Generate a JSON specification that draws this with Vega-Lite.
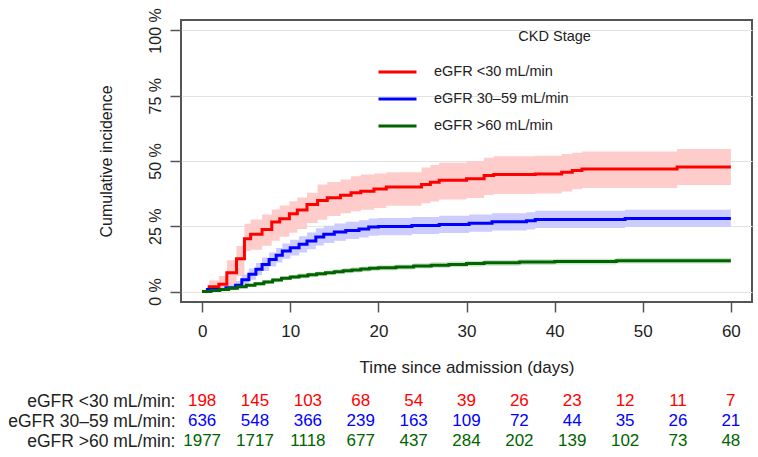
{
  "$schema": "https://vega.github.io/schema/vega-lite/v6.json",
  "padding": {"left": 7, "top": 6, "right": 6, "bottom": 0},
  "background": "white",
  "config": {
    "font": "Liberation Sans",
    "axis": {"labelFont": "Liberation Sans", "titleFont": "Liberation Sans", "labelColor": "#222", "titleColor": "#222", "titleFontWeight": "normal"},
    "legend": {"labelFont": "Liberation Sans", "labelColor": "#222"}
  },
  "datasets": {
    "curves": [
      {"g": "eGFR <30 mL/min", "t": 0, "est": 0, "lo": 0, "hi": 0},
      {"g": "eGFR <30 mL/min", "t": 0.8, "est": 1.8, "lo": 0.3, "hi": 4.2},
      {"g": "eGFR <30 mL/min", "t": 1.9, "est": 2.8, "lo": 0.8, "hi": 6},
      {"g": "eGFR <30 mL/min", "t": 2.8, "est": 7.2, "lo": 2.5, "hi": 12},
      {"g": "eGFR <30 mL/min", "t": 3.9, "est": 12.6, "lo": 6, "hi": 17.4},
      {"g": "eGFR <30 mL/min", "t": 4.8, "est": 20.2, "lo": 15.5, "hi": 26},
      {"g": "eGFR <30 mL/min", "t": 5.5, "est": 21.9, "lo": 16, "hi": 27.6},
      {"g": "eGFR <30 mL/min", "t": 6.8, "est": 23.8, "lo": 17.5, "hi": 29.5},
      {"g": "eGFR <30 mL/min", "t": 7.9, "est": 26.6, "lo": 19.5, "hi": 31.4},
      {"g": "eGFR <30 mL/min", "t": 8.8, "est": 27.9, "lo": 21, "hi": 33},
      {"g": "eGFR <30 mL/min", "t": 9.9, "est": 29.8, "lo": 22.5, "hi": 34.6},
      {"g": "eGFR <30 mL/min", "t": 10.8, "est": 31.2, "lo": 24, "hi": 36},
      {"g": "eGFR <30 mL/min", "t": 11.9, "est": 33.3, "lo": 26.3, "hi": 37.8},
      {"g": "eGFR <30 mL/min", "t": 13.1, "est": 34.9, "lo": 27.5, "hi": 41},
      {"g": "eGFR <30 mL/min", "t": 14.2, "est": 35.9, "lo": 28.9, "hi": 42},
      {"g": "eGFR <30 mL/min", "t": 15.7, "est": 36.9, "lo": 30, "hi": 42.9},
      {"g": "eGFR <30 mL/min", "t": 16.9, "est": 37.8, "lo": 30.8, "hi": 44.2},
      {"g": "eGFR <30 mL/min", "t": 18, "est": 38.4, "lo": 31.3, "hi": 44.8},
      {"g": "eGFR <30 mL/min", "t": 19.5, "est": 39.3, "lo": 32, "hi": 45.2},
      {"g": "eGFR <30 mL/min", "t": 20.9, "est": 40, "lo": 32.9, "hi": 45.7},
      {"g": "eGFR <30 mL/min", "t": 24.9, "est": 41, "lo": 33.8, "hi": 47.5},
      {"g": "eGFR <30 mL/min", "t": 25.9, "est": 41.9, "lo": 34.5, "hi": 48.5},
      {"g": "eGFR <30 mL/min", "t": 26.9, "est": 42.6, "lo": 35.3, "hi": 49.3},
      {"g": "eGFR <30 mL/min", "t": 30, "est": 43.2, "lo": 35.8, "hi": 50},
      {"g": "eGFR <30 mL/min", "t": 32, "est": 44.4, "lo": 37, "hi": 51.2},
      {"g": "eGFR <30 mL/min", "t": 33.1, "est": 44.8, "lo": 37.4, "hi": 51.8},
      {"g": "eGFR <30 mL/min", "t": 37.8, "est": 45, "lo": 37.6, "hi": 52},
      {"g": "eGFR <30 mL/min", "t": 40.8, "est": 45.7, "lo": 38.3, "hi": 52.7},
      {"g": "eGFR <30 mL/min", "t": 42, "est": 46.4, "lo": 39.2, "hi": 53.2},
      {"g": "eGFR <30 mL/min", "t": 43.1, "est": 46.9, "lo": 39.7, "hi": 53.6},
      {"g": "eGFR <30 mL/min", "t": 53.9, "est": 47.7, "lo": 40.8, "hi": 54.6},
      {"g": "eGFR <30 mL/min", "t": 60, "est": 47.7, "lo": 40.8, "hi": 54.6},

      {"g": "eGFR 30–59 mL/min", "t": 0, "est": 0, "lo": 0, "hi": 0},
      {"g": "eGFR 30–59 mL/min", "t": 0.6, "est": 0.8, "lo": 0.2, "hi": 1.8},
      {"g": "eGFR 30–59 mL/min", "t": 2.7, "est": 1.5, "lo": 0.6, "hi": 2.8},
      {"g": "eGFR 30–59 mL/min", "t": 3.8, "est": 2.4, "lo": 1.2, "hi": 4},
      {"g": "eGFR 30–59 mL/min", "t": 4.5, "est": 4.5, "lo": 2.8, "hi": 6.5},
      {"g": "eGFR 30–59 mL/min", "t": 5.3, "est": 6.6, "lo": 4.5, "hi": 8.8},
      {"g": "eGFR 30–59 mL/min", "t": 6.1, "est": 8.5, "lo": 6.2, "hi": 10.9},
      {"g": "eGFR 30–59 mL/min", "t": 6.8, "est": 10.4, "lo": 7.9, "hi": 13},
      {"g": "eGFR 30–59 mL/min", "t": 7.6, "est": 12.3, "lo": 9.6, "hi": 15},
      {"g": "eGFR 30–59 mL/min", "t": 8.4, "est": 13.9, "lo": 11.1, "hi": 16.7},
      {"g": "eGFR 30–59 mL/min", "t": 9.1, "est": 15.5, "lo": 12.6, "hi": 18.4},
      {"g": "eGFR 30–59 mL/min", "t": 10, "est": 16.8, "lo": 13.8, "hi": 19.8},
      {"g": "eGFR 30–59 mL/min", "t": 11, "est": 18.1, "lo": 15, "hi": 21.2},
      {"g": "eGFR 30–59 mL/min", "t": 11.9, "est": 19.4, "lo": 16.2, "hi": 22.6},
      {"g": "eGFR 30–59 mL/min", "t": 12.9, "est": 20.9, "lo": 17.6, "hi": 24.2},
      {"g": "eGFR 30–59 mL/min", "t": 13.8, "est": 21.9, "lo": 18.6, "hi": 25.2},
      {"g": "eGFR 30–59 mL/min", "t": 15, "est": 22.8, "lo": 19.5, "hi": 26.1},
      {"g": "eGFR 30–59 mL/min", "t": 16.3, "est": 23.4, "lo": 20.1, "hi": 26.7},
      {"g": "eGFR 30–59 mL/min", "t": 17.8, "est": 24, "lo": 20.7, "hi": 27.3},
      {"g": "eGFR 30–59 mL/min", "t": 18.9, "est": 24.7, "lo": 21.4, "hi": 28},
      {"g": "eGFR 30–59 mL/min", "t": 20, "est": 24.9, "lo": 21.6, "hi": 28.2},
      {"g": "eGFR 30–59 mL/min", "t": 23.8, "est": 25.3, "lo": 22, "hi": 28.6},
      {"g": "eGFR 30–59 mL/min", "t": 26.9, "est": 25.7, "lo": 22.4, "hi": 29},
      {"g": "eGFR 30–59 mL/min", "t": 30.3, "est": 26.2, "lo": 22.9, "hi": 29.5},
      {"g": "eGFR 30–59 mL/min", "t": 32.9, "est": 26.7, "lo": 23.4, "hi": 30},
      {"g": "eGFR 30–59 mL/min", "t": 36.8, "est": 27.1, "lo": 23.8, "hi": 30.4},
      {"g": "eGFR 30–59 mL/min", "t": 37.8, "est": 27.6, "lo": 24.3, "hi": 30.9},
      {"g": "eGFR 30–59 mL/min", "t": 48, "est": 28, "lo": 24.7, "hi": 31.3},
      {"g": "eGFR 30–59 mL/min", "t": 60, "est": 28, "lo": 24.7, "hi": 31.3},

      {"g": "eGFR >60 mL/min", "t": 0, "est": 0, "lo": 0, "hi": 0},
      {"g": "eGFR >60 mL/min", "t": 1, "est": 0.4, "lo": 0.2, "hi": 0.6},
      {"g": "eGFR >60 mL/min", "t": 2, "est": 0.8, "lo": 0.5, "hi": 1.1},
      {"g": "eGFR >60 mL/min", "t": 3, "est": 1.3, "lo": 0.9, "hi": 1.7},
      {"g": "eGFR >60 mL/min", "t": 4, "est": 1.8, "lo": 1.3, "hi": 2.3},
      {"g": "eGFR >60 mL/min", "t": 5, "est": 2.4, "lo": 1.8, "hi": 3.0},
      {"g": "eGFR >60 mL/min", "t": 6, "est": 3.0, "lo": 2.3, "hi": 3.7},
      {"g": "eGFR >60 mL/min", "t": 7, "est": 3.7, "lo": 3.0, "hi": 4.4},
      {"g": "eGFR >60 mL/min", "t": 8, "est": 4.4, "lo": 3.6, "hi": 5.2},
      {"g": "eGFR >60 mL/min", "t": 9, "est": 5.1, "lo": 4.3, "hi": 5.9},
      {"g": "eGFR >60 mL/min", "t": 10, "est": 5.6, "lo": 4.8, "hi": 6.4},
      {"g": "eGFR >60 mL/min", "t": 11, "est": 6.0, "lo": 5.1, "hi": 6.9},
      {"g": "eGFR >60 mL/min", "t": 12, "est": 6.4, "lo": 5.5, "hi": 7.3},
      {"g": "eGFR >60 mL/min", "t": 13, "est": 6.8, "lo": 5.9, "hi": 7.7},
      {"g": "eGFR >60 mL/min", "t": 14, "est": 7.2, "lo": 6.3, "hi": 8.1},
      {"g": "eGFR >60 mL/min", "t": 15, "est": 7.6, "lo": 6.7, "hi": 8.5},
      {"g": "eGFR >60 mL/min", "t": 16, "est": 8.0, "lo": 7.0, "hi": 9.0},
      {"g": "eGFR >60 mL/min", "t": 17, "est": 8.3, "lo": 7.3, "hi": 9.3},
      {"g": "eGFR >60 mL/min", "t": 18, "est": 8.6, "lo": 7.6, "hi": 9.6},
      {"g": "eGFR >60 mL/min", "t": 19, "est": 8.9, "lo": 7.9, "hi": 9.9},
      {"g": "eGFR >60 mL/min", "t": 20, "est": 9.1, "lo": 8.1, "hi": 10.1},
      {"g": "eGFR >60 mL/min", "t": 22, "est": 9.4, "lo": 8.4, "hi": 10.4},
      {"g": "eGFR >60 mL/min", "t": 24, "est": 9.8, "lo": 8.8, "hi": 10.8},
      {"g": "eGFR >60 mL/min", "t": 26, "est": 10.1, "lo": 9.0, "hi": 11.2},
      {"g": "eGFR >60 mL/min", "t": 28, "est": 10.4, "lo": 9.3, "hi": 11.5},
      {"g": "eGFR >60 mL/min", "t": 30, "est": 10.7, "lo": 9.6, "hi": 11.8},
      {"g": "eGFR >60 mL/min", "t": 32, "est": 11.0, "lo": 9.9, "hi": 12.1},
      {"g": "eGFR >60 mL/min", "t": 36, "est": 11.3, "lo": 10.2, "hi": 12.4},
      {"g": "eGFR >60 mL/min", "t": 40, "est": 11.5, "lo": 10.4, "hi": 12.6},
      {"g": "eGFR >60 mL/min", "t": 47, "est": 11.8, "lo": 10.7, "hi": 12.9},
      {"g": "eGFR >60 mL/min", "t": 60, "est": 11.8, "lo": 10.7, "hi": 12.9}
    ],
    "risk": [
      {"g": "eGFR <30 mL/min", "t": 0, "n": 198}, {"g": "eGFR <30 mL/min", "t": 6, "n": 145}, {"g": "eGFR <30 mL/min", "t": 12, "n": 103}, {"g": "eGFR <30 mL/min", "t": 18, "n": 68}, {"g": "eGFR <30 mL/min", "t": 24, "n": 54}, {"g": "eGFR <30 mL/min", "t": 30, "n": 39}, {"g": "eGFR <30 mL/min", "t": 36, "n": 26}, {"g": "eGFR <30 mL/min", "t": 42, "n": 23}, {"g": "eGFR <30 mL/min", "t": 48, "n": 12}, {"g": "eGFR <30 mL/min", "t": 54, "n": 11}, {"g": "eGFR <30 mL/min", "t": 60, "n": 7},
      {"g": "eGFR 30–59 mL/min", "t": 0, "n": 636}, {"g": "eGFR 30–59 mL/min", "t": 6, "n": 548}, {"g": "eGFR 30–59 mL/min", "t": 12, "n": 366}, {"g": "eGFR 30–59 mL/min", "t": 18, "n": 239}, {"g": "eGFR 30–59 mL/min", "t": 24, "n": 163}, {"g": "eGFR 30–59 mL/min", "t": 30, "n": 109}, {"g": "eGFR 30–59 mL/min", "t": 36, "n": 72}, {"g": "eGFR 30–59 mL/min", "t": 42, "n": 44}, {"g": "eGFR 30–59 mL/min", "t": 48, "n": 35}, {"g": "eGFR 30–59 mL/min", "t": 54, "n": 26}, {"g": "eGFR 30–59 mL/min", "t": 60, "n": 21},
      {"g": "eGFR >60 mL/min", "t": 0, "n": 1977}, {"g": "eGFR >60 mL/min", "t": 6, "n": 1717}, {"g": "eGFR >60 mL/min", "t": 12, "n": 1118}, {"g": "eGFR >60 mL/min", "t": 18, "n": 677}, {"g": "eGFR >60 mL/min", "t": 24, "n": 437}, {"g": "eGFR >60 mL/min", "t": 30, "n": 284}, {"g": "eGFR >60 mL/min", "t": 36, "n": 202}, {"g": "eGFR >60 mL/min", "t": 42, "n": 139}, {"g": "eGFR >60 mL/min", "t": 48, "n": 102}, {"g": "eGFR >60 mL/min", "t": 54, "n": 73}, {"g": "eGFR >60 mL/min", "t": 60, "n": 48}
    ]
  },
  "resolve": {"scale": {"color": "independent", "x": "independent", "y": "independent"}, "legend": {"color": "independent"}},
  "spacing": 15,
  "vconcat": [
    {
      "width": 571,
      "height": 282,
      "view": {"stroke": "#555", "strokeWidth": 2},
      "layer": [
        {
          "data": {"name": "curves"},
          "mark": {"type": "area", "interpolate": "step-after", "opacity": 1},
          "encoding": {
            "x": {"field": "t", "type": "quantitative", "scale": {"domain": [-2.4, 62.4], "nice": false, "zero": false},
              "axis": {"values": [0, 10, 20, 30, 40, 50, 60], "title": "Time since admission (days)", "grid": false, "domain": false, "tickSize": 10, "tickColor": "#555", "tickWidth": 1.5, "labelFontSize": 17, "titleFontSize": 17, "labelPadding": 11, "titlePadding": 20}},
            "y": {"field": "lo", "type": "quantitative", "scale": {"domain": [-4, 104], "nice": false, "zero": false},
              "axis": {"values": [0, 25, 50, 75, 100], "labelExpr": "datum.value + ' %'", "title": "Cumulative incidence", "grid": true, "gridColor": "#E2E2E2", "gridWidth": 1, "domain": false, "tickSize": 11, "tickColor": "#555", "tickWidth": 1.5, "labelAngle": -90, "labelAlign": "center", "labelBaseline": "bottom", "labelFontSize": 16, "titleFontSize": 16, "labelPadding": 7, "titlePadding": 33}},
            "y2": {"field": "hi"},
            "fill": {"field": "g", "type": "nominal", "legend": null,
              "scale": {"domain": ["eGFR <30 mL/min", "eGFR 30–59 mL/min", "eGFR >60 mL/min"], "range": ["#FFCCCC", "#CCCCFF", "#CCE3CC"]}},
            "detail": {"field": "g"}
          }
        },
        {
          "data": {"name": "curves"},
          "mark": {"type": "line", "interpolate": "step-after", "strokeWidth": 3},
          "encoding": {
            "x": {"field": "t", "type": "quantitative"},
            "y": {"field": "est", "type": "quantitative"},
            "color": {"field": "g", "type": "nominal",
              "scale": {"domain": ["eGFR <30 mL/min", "eGFR 30–59 mL/min", "eGFR >60 mL/min"], "range": ["#FF0000", "#0000FF", "#006400"]},
              "legend": {"orient": "none", "legendX": 196, "legendY": 31.5, "title": null, "symbolType": "stroke", "symbolSize": 1444, "symbolStrokeWidth": 3, "labelFontSize": 14.5, "labelOffset": 16, "rowPadding": -10, "padding": 0}}
          }
        },
        {
          "data": {"values": [{"t": 40, "y": 97.6, "label": "CKD Stage"}]},
          "mark": {"type": "text", "fontSize": 14.5, "color": "#222", "align": "center", "baseline": "middle"},
          "encoding": {
            "x": {"field": "t", "type": "quantitative"},
            "y": {"field": "y", "type": "quantitative"},
            "text": {"field": "label"}
          }
        }
      ]
    },
    {
      "width": 571,
      "height": 60,
      "view": {"stroke": null},
      "data": {"name": "risk"},
      "mark": {"type": "text", "fontSize": 17, "baseline": "middle", "align": "center"},
      "encoding": {
        "x": {"field": "t", "type": "quantitative", "scale": {"domain": [-2.4, 62.4], "nice": false, "zero": false}, "axis": null},
        "y": {"field": "g", "type": "nominal", "sort": ["eGFR <30 mL/min", "eGFR 30–59 mL/min", "eGFR >60 mL/min"], "scale": {"paddingInner": 0, "paddingOuter": 0},
          "axis": {"title": null, "domain": false, "ticks": false, "grid": false, "labelFontSize": 17.5, "labelPadding": 6, "labelExpr": "datum.value + ':'", "labelLimit": 300}},
        "text": {"field": "n", "type": "quantitative"},
        "color": {"field": "g", "type": "nominal", "legend": null,
          "scale": {"domain": ["eGFR <30 mL/min", "eGFR 30–59 mL/min", "eGFR >60 mL/min"], "range": ["#FF0000", "#0000FF", "#006400"]}}
      }
    }
  ]
}
